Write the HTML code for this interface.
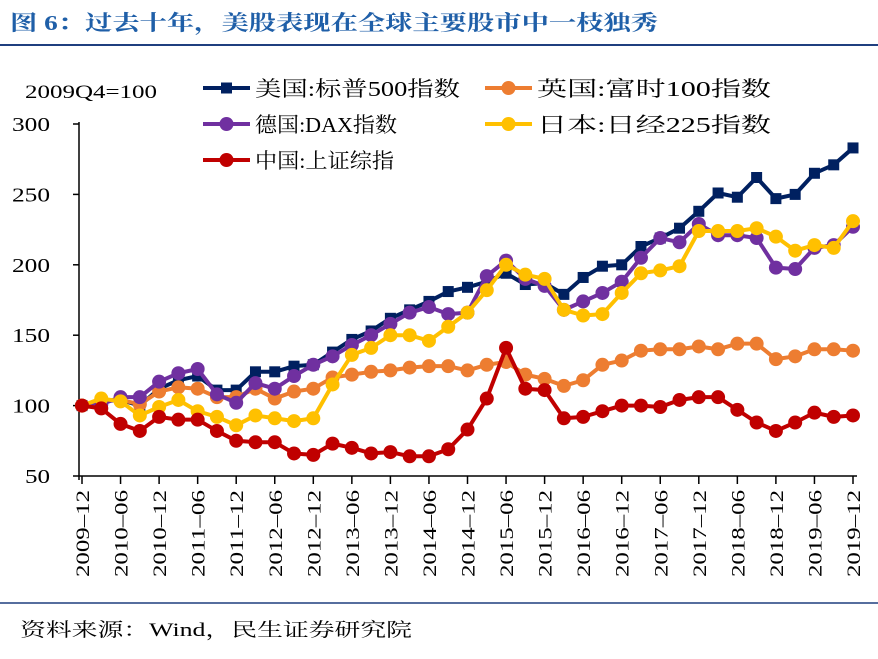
<!DOCTYPE html>
<html><head><meta charset="utf-8"><style>
body{margin:0;width:878px;height:654px;background:#fff;overflow:hidden;font-family:"Liberation Serif","Noto Serif CJK SC",serif;}
</style></head><body>
<svg width="878" height="654">
<text x="10" y="30" font-size="21" font-weight="bold" fill="#1f5fa8" textLength="648" lengthAdjust="spacingAndGlyphs" font-family="Liberation Serif,Noto Serif CJK SC,serif">图 6：过去十年，美股表现在全球主要股市中一枝独秀</text>
<line x1="0" y1="45" x2="878" y2="45" stroke="#1f3f7f" stroke-width="2"/>
<text x="25" y="98" font-size="19" textLength="132" lengthAdjust="spacingAndGlyphs">2009Q4=100</text>
<g id="axes"></g><g id="series"></g><g id="legend"></g>
<line x1="0" y1="603" x2="878" y2="603" stroke="#1f3f7f" stroke-width="1.5"/>
<text x="20" y="636" font-size="19" textLength="392" lengthAdjust="spacingAndGlyphs">资料来源：Wind，民生证券研究院</text>
</svg>
<script>
const seriesNames=["美国:标普500指数","英国:富时100指数","德国:DAX指数","日本:日经225指数","中国:上证综指"];
const us=[100,103,104,100,112,118,121,111,111,124,124,128,129,138,147,153,162,168,174,181,184,188,194,186,187,179,191,199,200,213,219,226,238,251,248,262,247,250,265,271,283];
const uk=[100,104,104,101,110,113,112,106,106,112,105,110,112,120,122,124,125,127,128,128,125,129,131,122,119,114,118,129,132,139,140,140,142,140,144,144,133,135,140,140,139];
const de=[100,101,106,106,117,123,126,108,102,116,112,121,129,135,143,150,158,166,170,165,166,192,203,190,185,168,174,180,188,205,219,216,229,221,221,219,198,197,212,214,227];
const jp=[100,105,103,93,99,104,96,92,86,93,91,89,91,115,136,141,150,150,146,156,166,182,200,193,190,168,164,165,180,194,196,199,224,224,224,226,220,210,214,212,231];
const cn=[100,98,87,82,92,90,90,82,75,74,74,66,65,73,70,66,67,64,64,69,83,105,141,112,111,91,92,96,100,100,99,104,106,106,97,88,82,88,95,92,93];
const yTicks=[50,100,150,200,250,300];
const xLabels=["2009–12","2010–06","2010–12","2011–06","2011–12","2012–06","2012–12","2013–06","2013–12","2014–06","2014–12","2015–06","2015–12","2016–06","2016–12","2017–06","2017–12","2018–06","2018–12","2019–06","2019–12"];
const colors=["#002060","#ed7d31","#7030a0","#ffc000","#c00000"];
const NS="http://www.w3.org/2000/svg";
const X0=82,X1=853,Y300=124,Y50=476;
const xs=i=>X0+(X1-X0)*i/(us.length-1);
const ys=v=>Y50-(v-50)*(Y50-Y300)/250;
function mk(t,a,p){const e=document.createElementNS(NS,t);for(const k in a)e.setAttribute(k,a[k]);p.appendChild(e);return e;}
const ax=document.getElementById('axes');
let l=mk('line',{x1:X0-3,y1:Y300-2,x2:X0-3,y2:Y50+4,stroke:'#000','stroke-width':1.5},ax);


l=mk('line',{x1:X0-3,y1:Y50,x2:X1+4,y2:Y50,stroke:'#000','stroke-width':1.5},ax);


yTicks.forEach(v=>{const y=ys(v);
 mk('line',{x1:X0-9,y1:y,x2:X0-3,y2:y,stroke:'#000','stroke-width':1.5},ax);
 const t=mk('text',{x:12,y:y+7,'font-size':20,textLength:v<100?25:38,lengthAdjust:'spacingAndGlyphs'},ax);t.textContent=v;
 if(v<100)t.setAttribute('x',25);
 
 });
xLabels.forEach((s,j)=>{const x=xs(j*2);
 mk('line',{x1:x,y1:Y50,x2:x,y2:Y50+8,stroke:'#000','stroke-width':1.5},ax);
 const t=mk('text',{x:0,y:0,'text-anchor':'end','font-size':19,textLength:87,lengthAdjust:'spacingAndGlyphs',transform:`translate(${x+7},${Y50+14}) rotate(-90)`},ax);t.textContent=s;
 
 });
const sg=document.getElementById('series');
[us,uk,de,jp,cn].forEach((d,k)=>{
 const g=mk('g',{},sg);
 
 
 mk('polyline',{points:d.map((v,i)=>xs(i)+','+ys(v)).join(' '),fill:'none',stroke:colors[k],'stroke-width':4,'stroke-linejoin':'round'},g);
 d.forEach((v,i)=>{let m;
  if(k===0)m=mk('rect',{x:xs(i)-5.5,y:ys(v)-5.5,width:11,height:11,fill:colors[k]},g);
  else m=mk('circle',{cx:xs(i),cy:ys(v),r:7,fill:colors[k]},g);
  
  });
});
const lg=document.getElementById('legend');
const pos=[[203,88],[485,88],[203,124],[485,124],[203,160]];
const tl=[205,234,142,234,139];
seriesNames.forEach((n,k)=>{const [x,y]=pos[k];
 const g=mk('g',{},lg);
 
 
 mk('line',{x1:x,y1:y,x2:x+47,y2:y,stroke:colors[k],'stroke-width':4},g);
 if(k===0)mk('rect',{x:x+18,y:y-5.5,width:11,height:11,fill:colors[k]},g);
 else mk('circle',{cx:x+23.5,cy:y,r:7,fill:colors[k]},g);
 const t=mk('text',{x:x+52,y:y+8,'font-size':21,textLength:tl[k],lengthAdjust:'spacingAndGlyphs'},g);t.textContent=n;});
</script>
</body></html>
